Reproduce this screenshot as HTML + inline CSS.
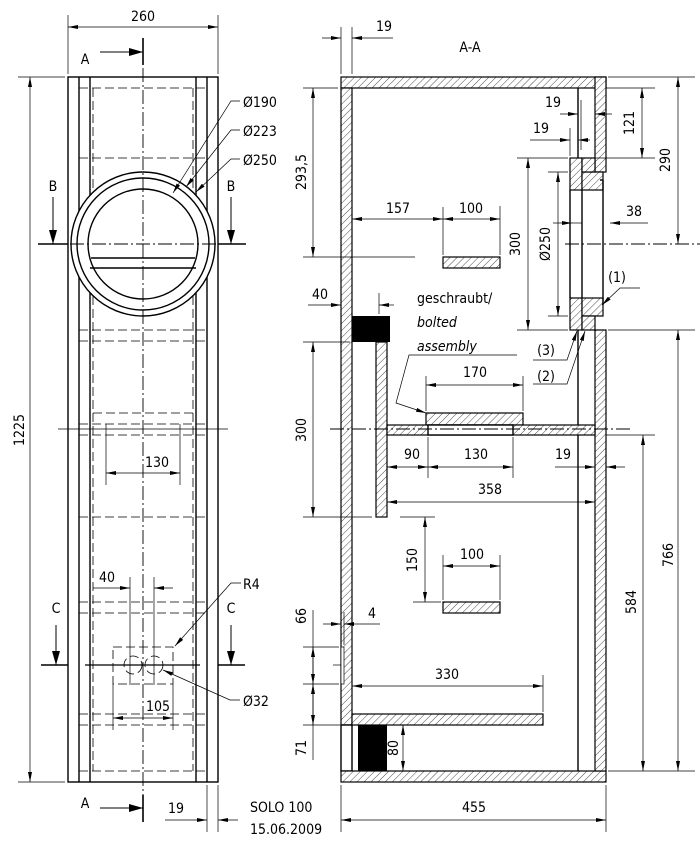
<!DOCTYPE html>
<html><head><meta charset="utf-8"><style>
html,body{margin:0;padding:0;background:#fff;}
svg{display:block;}
text{font-family:"DejaVu Sans","Liberation Sans",sans-serif;font-size:14px;fill:#000;font-stretch:condensed;}
.t{stroke:#000;stroke-width:0.7;fill:none;}
.k{stroke:#000;stroke-width:1.4;fill:none;}
.d{stroke:#000;stroke-width:0.8;fill:none;stroke-dasharray:9 4;}
.c{stroke:#000;stroke-width:0.9;fill:none;stroke-dasharray:14 3 2 3;}
.h{stroke:#000;stroke-width:1.2;fill:url(#hat);}
.dim{stroke:#000;stroke-width:0.7;fill:none;marker-start:url(#ar);marker-end:url(#ar);}
.dm{stroke:#000;stroke-width:0.7;fill:none;marker-end:url(#ar);}
.m{text-anchor:middle;}
</style></head><body>
<svg width="700" height="862" viewBox="0 0 700 862" xmlns="http://www.w3.org/2000/svg">
<defs>
<marker id="ar" viewBox="0 0 10 4" refX="10" refY="2" markerWidth="10" markerHeight="4" markerUnits="userSpaceOnUse" orient="auto-start-reverse"><path d="M0,0 L10,2 L0,4 z" fill="#000"/></marker>
<marker id="bar" viewBox="0 0 14 8" refX="14" refY="4" markerWidth="14" markerHeight="8" markerUnits="userSpaceOnUse" orient="auto"><path d="M0,0 L14,4 L0,8 z" fill="#000"/></marker>
<pattern id="hat" patternUnits="userSpaceOnUse" width="5" height="5" patternTransform="rotate(45)"><rect width="5" height="5" fill="#fff"/><line x1="0" y1="0" x2="0" y2="5" stroke="#000" stroke-width="0.7"/></pattern>
</defs>

<!-- ============ LEFT VIEW ============ -->
<rect x="68" y="77" width="150" height="705" class="k"/>
<line x1="79" y1="77" x2="79" y2="782" class="k"/>
<line x1="90" y1="77" x2="90" y2="782" class="k"/>
<line x1="196" y1="77" x2="196" y2="782" class="k"/>
<line x1="207" y1="77" x2="207" y2="782" class="k"/>
<line x1="93" y1="88" x2="93" y2="771" class="d"/>
<line x1="193" y1="88" x2="193" y2="771" class="d"/>
<g class="d">
<line x1="79" y1="88" x2="207" y2="88"/>
<line x1="79" y1="158" x2="207" y2="158"/>
<line x1="79" y1="257" x2="207" y2="257"/>
<line x1="79" y1="267" x2="207" y2="267"/>
<line x1="79" y1="330" x2="207" y2="330"/>
<line x1="79" y1="341" x2="207" y2="341"/>
<line x1="93" y1="413" x2="193" y2="413"/>
<line x1="79" y1="424" x2="207" y2="424"/>
<line x1="79" y1="435" x2="207" y2="435"/>
<line x1="79" y1="517" x2="207" y2="517"/>
<line x1="79" y1="602" x2="207" y2="602"/>
<line x1="79" y1="613" x2="207" y2="613"/>
<line x1="79" y1="714" x2="207" y2="714"/>
<line x1="79" y1="725" x2="207" y2="725"/>
<line x1="79" y1="771" x2="207" y2="771"/>
<rect x="113" y="647" width="60" height="37"/>
<circle cx="133" cy="665" r="9"/>
<circle cx="154" cy="665" r="9"/>
</g>
<line x1="58" y1="429" x2="228" y2="429" class="t"/>
<circle cx="143" cy="244" r="72" class="k" style="fill:#fff"/>
<circle cx="143" cy="244" r="66" class="k"/>
<circle cx="143" cy="244" r="55" class="k"/>
<line x1="91" y1="258" x2="195" y2="258" class="k"/>
<line x1="90" y1="268" x2="196" y2="268" class="k"/>
<line x1="143" y1="38" x2="143" y2="65" stroke="#000" stroke-width="1.6"/>
<line x1="143" y1="68" x2="143" y2="795" class="c"/>
<line x1="143" y1="795" x2="143" y2="822" stroke="#000" stroke-width="1.6"/>
<text x="85" y="64" class="m">A</text>
<line x1="100" y1="52" x2="143" y2="52" stroke="#000" stroke-width="1" marker-end="url(#bar)"/>
<text x="85" y="808" class="m">A</text>
<line x1="100" y1="808" x2="143" y2="808" stroke="#000" stroke-width="1" marker-end="url(#bar)"/>
<line x1="38" y1="244" x2="68" y2="244" stroke="#000" stroke-width="1.5"/>
<line x1="218" y1="244" x2="246" y2="244" stroke="#000" stroke-width="1.5"/>
<line x1="70" y1="244" x2="216" y2="244" class="c"/>
<text x="53" y="191" class="m">B</text>
<line x1="53" y1="197" x2="53" y2="244" stroke="#000" stroke-width="1" marker-end="url(#bar)"/>
<text x="231" y="191" class="m">B</text>
<line x1="231" y1="197" x2="231" y2="244" stroke="#000" stroke-width="1" marker-end="url(#bar)"/>
<line x1="41" y1="665" x2="68" y2="665" stroke="#000" stroke-width="1.5"/>
<line x1="218" y1="665" x2="245" y2="665" stroke="#000" stroke-width="1.5"/>
<line x1="85" y1="665" x2="200" y2="665" stroke="#000" stroke-width="1.2"/>
<text x="56" y="613" class="m">C</text>
<line x1="56" y1="625" x2="56" y2="665" stroke="#000" stroke-width="1" marker-end="url(#bar)"/>
<text x="231" y="613" class="m">C</text>
<line x1="231" y1="625" x2="231" y2="665" stroke="#000" stroke-width="1" marker-end="url(#bar)"/>
<line x1="68" y1="15" x2="68" y2="74" class="t"/>
<line x1="218" y1="15" x2="218" y2="74" class="t"/>
<line x1="68" y1="27" x2="218" y2="27" class="dim"/>
<text x="143" y="21" class="m">260</text>
<line x1="18" y1="77" x2="65" y2="77" class="t"/>
<line x1="18" y1="782" x2="65" y2="782" class="t"/>
<line x1="30" y1="77" x2="30" y2="782" class="dim"/>
<text transform="translate(24,430) rotate(-90)" class="m">1225</text>
<polyline points="240,101 231,101 173,193" class="dm"/>
<text x="243" y="107">Ø190</text>
<polyline points="240,130 231,130 186,187" class="dm"/>
<text x="243" y="136">Ø223</text>
<polyline points="240,159 231,159 196,192" class="dm"/>
<text x="243" y="165">Ø250</text>
<line x1="106" y1="424" x2="106" y2="485" class="t"/>
<line x1="180" y1="424" x2="180" y2="485" class="t"/>
<line x1="106" y1="473" x2="180" y2="473" class="dim"/>
<text x="157" y="467" class="m">130</text>
<line x1="130" y1="577" x2="130" y2="685" class="t"/>
<line x1="154" y1="577" x2="154" y2="685" class="t"/>
<line x1="93" y1="588" x2="130" y2="588" class="dm"/>
<line x1="173" y1="588" x2="154" y2="588" class="dm"/>
<text x="107" y="582" class="m">40</text>
<polyline points="241,583 231,583 175,646" class="dm"/>
<text x="243" y="589">R4</text>
<polyline points="240,700 230,700 163,670" class="dm"/>
<text x="243" y="706">Ø32</text>
<line x1="113" y1="684" x2="113" y2="730" class="t"/>
<line x1="173" y1="684" x2="173" y2="730" class="t"/>
<line x1="113" y1="718" x2="173" y2="718" class="dim"/>
<text x="158" y="711" class="m">105</text>
<line x1="207" y1="785" x2="207" y2="832" class="t"/>
<line x1="218" y1="785" x2="218" y2="832" class="t"/>
<line x1="165" y1="820" x2="207" y2="820" class="dm"/>
<line x1="238" y1="820" x2="218" y2="820" class="dm"/>
<text x="176" y="813" class="m">19</text>
<text x="250" y="812">SOLO 100</text>
<text x="250" y="834">15.06.2009</text>

<!-- ============ RIGHT VIEW A-A ============ -->
<text x="470" y="52" class="m">A-A</text>
<rect x="341" y="77" width="265" height="11" class="h"/>
<rect x="341" y="88" width="11" height="637" class="h"/>
<rect x="341" y="725" width="11" height="46" class="k" style="fill:#fff"/>
<rect x="341" y="771" width="265" height="11" class="h"/>
<rect x="595" y="77" width="11" height="95" class="h"/>
<rect x="595" y="330" width="11" height="441" class="h"/>
<line x1="578" y1="88" x2="578" y2="158" class="k"/>
<line x1="578" y1="330" x2="578" y2="771" class="k"/>
<rect x="570" y="158" width="12" height="32" class="h"/>
<rect x="570" y="298" width="12" height="32" class="h"/>
<rect x="582" y="172" width="21" height="18" class="h"/>
<rect x="582" y="298" width="21" height="18" class="h"/>
<rect x="582" y="158" width="13" height="14" class="h"/>
<rect x="582" y="316" width="13" height="14" class="h"/>
<line x1="570" y1="190" x2="570" y2="298" class="k"/>
<line x1="582" y1="190" x2="582" y2="298" class="k"/>
<line x1="603" y1="180" x2="603" y2="305" class="k"/>
<line x1="600" y1="180" x2="603" y2="180" class="k"/>
<rect x="443" y="257" width="57" height="11" class="h"/>
<rect x="352" y="316" width="38" height="26" fill="#000"/>
<rect x="376" y="342" width="11" height="175" class="h"/>
<rect x="426" y="413" width="97" height="12" class="h"/>
<rect x="387" y="425" width="208" height="10" class="h"/>
<rect x="428" y="425" width="85" height="10" class="k" style="fill:#fff"/>
<rect x="443" y="602" width="57" height="11" class="h"/>
<rect x="352" y="714" width="191" height="11" class="h"/>
<rect x="358" y="725" width="29" height="46" fill="#000"/>
<rect x="341" y="647" width="3" height="37" class="t" style="fill:#fff"/>
<line x1="565" y1="244" x2="700" y2="244" class="c"/>
<line x1="330" y1="429" x2="632" y2="429" class="c"/>
<line x1="341" y1="27" x2="341" y2="74" class="t"/>
<line x1="352" y1="27" x2="352" y2="74" class="t"/>
<line x1="322" y1="38" x2="341" y2="38" class="dm"/>
<line x1="393" y1="38" x2="352" y2="38" class="dm"/>
<text x="384" y="31" class="m">19</text>
<line x1="303" y1="88" x2="338" y2="88" class="t"/>
<line x1="303" y1="257" x2="415" y2="257" class="t"/>
<line x1="313" y1="88" x2="313" y2="257" class="dim"/>
<text transform="translate(306,172) rotate(-90)" class="m">293,5</text>
<line x1="443" y1="207" x2="443" y2="255" class="t"/>
<line x1="500" y1="206" x2="500" y2="255" class="t"/>
<line x1="352" y1="219" x2="443" y2="219" class="dim"/>
<line x1="443" y1="219" x2="500" y2="219" class="dim"/>
<text x="398" y="213" class="m">157</text>
<text x="471" y="213" class="m">100</text>
<line x1="517" y1="158" x2="568" y2="158" class="t"/>
<line x1="517" y1="330" x2="568" y2="330" class="t"/>
<line x1="528" y1="158" x2="528" y2="330" class="dim"/>
<text transform="translate(520,244) rotate(-90)" class="m">300</text>
<line x1="548" y1="172" x2="568" y2="172" class="t"/>
<line x1="548" y1="316" x2="568" y2="316" class="t"/>
<line x1="558" y1="172" x2="558" y2="316" class="dim"/>
<text transform="translate(550,244) rotate(-90)" class="m">Ø250</text>
<line x1="581" y1="100" x2="581" y2="150" class="t"/>
<line x1="560" y1="114" x2="578" y2="114" class="dm"/>
<line x1="612" y1="114" x2="595" y2="114" class="dm"/>
<text x="553" y="107" class="m">19</text>
<line x1="570" y1="128" x2="570" y2="156" class="t"/>
<line x1="530" y1="140" x2="570" y2="140" class="dm"/>
<line x1="590" y1="140" x2="578" y2="140" class="dm"/>
<text x="541" y="133" class="m">19</text>
<line x1="606" y1="88" x2="655" y2="88" class="t"/>
<line x1="586" y1="158" x2="655" y2="158" class="t"/>
<line x1="642" y1="88" x2="642" y2="158" class="dim"/>
<text transform="translate(634,123) rotate(-90)" class="m">121</text>
<line x1="608" y1="77" x2="695" y2="77" class="t"/>
<line x1="678" y1="77" x2="678" y2="244" class="dim"/>
<text transform="translate(670,160) rotate(-90)" class="m">290</text>
<line x1="553" y1="223" x2="572" y2="223" class="dm"/>
<line x1="648" y1="223" x2="610" y2="223" class="dm"/>
<line x1="572" y1="223" x2="582" y2="223" class="t"/>
<text x="634" y="216" class="m">38</text>
<text x="617" y="282" class="m">(1)</text>
<polyline points="640,288 620,288 602,305" class="dm"/>
<text x="546" y="355" class="m">(3)</text>
<polyline points="533,360 567,360 577,331" class="dm"/>
<text x="546" y="381" class="m">(2)</text>
<polyline points="533,384 567,384 585,331" class="dm"/>
<line x1="379" y1="293" x2="379" y2="314" class="t"/>
<line x1="308" y1="305" x2="341" y2="305" class="dm"/>
<line x1="394" y1="305" x2="379" y2="305" class="dm"/>
<text x="320" y="299" class="m">40</text>
<text x="417" y="303">geschraubt/</text>
<text x="417" y="327" font-style="italic">bolted</text>
<text x="417" y="351" font-style="italic">assembly</text>
<polyline points="517,355 409,355 396,403 426,413" class="dm"/>
<line x1="303" y1="342" x2="350" y2="342" class="t"/>
<line x1="303" y1="517" x2="372" y2="517" class="t"/>
<line x1="400" y1="517" x2="435" y2="517" class="t"/>
<line x1="313" y1="342" x2="313" y2="517" class="dim"/>
<text transform="translate(306,430) rotate(-90)" class="m">300</text>
<line x1="426" y1="376" x2="426" y2="411" class="t"/>
<line x1="523" y1="376" x2="523" y2="411" class="t"/>
<line x1="426" y1="385" x2="523" y2="385" class="dim"/>
<text x="475" y="377" class="m">170</text>
<line x1="428" y1="437" x2="428" y2="478" class="t"/>
<line x1="513" y1="437" x2="513" y2="478" class="t"/>
<line x1="387" y1="467" x2="428" y2="467" class="dim"/>
<line x1="428" y1="467" x2="513" y2="467" class="dim"/>
<text x="412" y="459" class="m">90</text>
<text x="476" y="459" class="m">130</text>
<line x1="555" y1="467" x2="595" y2="467" class="dm"/>
<line x1="625" y1="467" x2="606" y2="467" class="dm"/>
<text x="563" y="459" class="m">19</text>
<line x1="387" y1="502" x2="595" y2="502" class="dim"/>
<text x="490" y="494" class="m">358</text>
<line x1="413" y1="602" x2="441" y2="602" class="t"/>
<line x1="425" y1="517" x2="425" y2="602" class="dim"/>
<text transform="translate(417,560) rotate(-90)" class="m">150</text>
<line x1="443" y1="555" x2="443" y2="600" class="t"/>
<line x1="500" y1="555" x2="500" y2="600" class="t"/>
<line x1="443" y1="566" x2="500" y2="566" class="dim"/>
<text x="472" y="559" class="m">100</text>
<line x1="303" y1="647" x2="339" y2="647" class="t"/>
<line x1="303" y1="684" x2="339" y2="684" class="t"/>
<line x1="333" y1="665" x2="341" y2="665" class="t"/>
<line x1="303" y1="725" x2="340" y2="725" class="t"/>
<line x1="313" y1="610" x2="313" y2="760" class="t"/>
<line x1="313" y1="660" x2="313" y2="647" class="dm"/>
<line x1="313" y1="660" x2="313" y2="684" class="dm"/>
<line x1="313" y1="700" x2="313" y2="684" class="dm"/>
<line x1="313" y1="700" x2="313" y2="725" class="dm"/>
<text transform="translate(306,616) rotate(-90)" class="m">66</text>
<text transform="translate(306,748) rotate(-90)" class="m">71</text>
<line x1="344" y1="612" x2="344" y2="645" class="t"/>
<line x1="323" y1="624" x2="341" y2="624" class="dm"/>
<line x1="380" y1="624" x2="344" y2="624" class="dm"/>
<text x="372" y="618" class="m">4</text>
<line x1="543" y1="675" x2="543" y2="712" class="t"/>
<line x1="352" y1="686" x2="543" y2="686" class="dim"/>
<text x="447" y="679" class="m">330</text>
<line x1="403" y1="725" x2="403" y2="771" class="dim"/>
<text transform="translate(398,748) rotate(-90)" class="m">80</text>
<line x1="606" y1="435" x2="655" y2="435" class="t"/>
<line x1="608" y1="330" x2="695" y2="330" class="t"/>
<line x1="608" y1="771" x2="695" y2="771" class="t"/>
<line x1="643" y1="435" x2="643" y2="771" class="dim"/>
<text transform="translate(636,602) rotate(-90)" class="m">584</text>
<line x1="678" y1="330" x2="678" y2="771" class="dim"/>
<text transform="translate(673,555) rotate(-90)" class="m">766</text>
<line x1="341" y1="785" x2="341" y2="832" class="t"/>
<line x1="606" y1="785" x2="606" y2="832" class="t"/>
<line x1="341" y1="820" x2="606" y2="820" class="dim"/>
<text x="474" y="812" class="m">455</text>
</svg>
</body></html>
